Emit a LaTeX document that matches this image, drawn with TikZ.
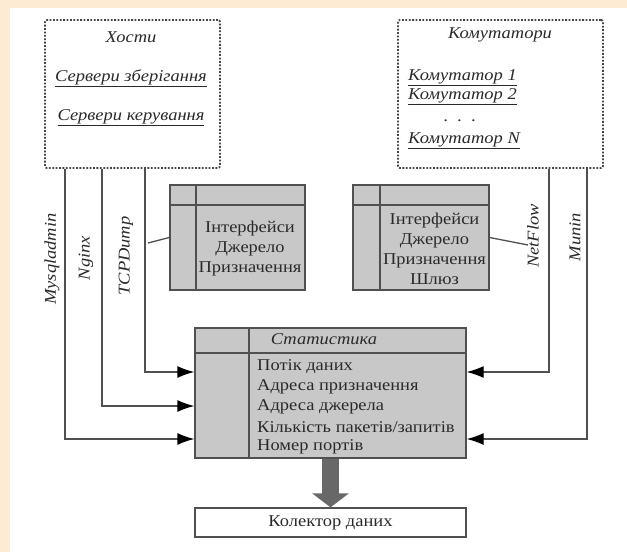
\documentclass[tikz,border=0pt]{standalone}
\usepackage{fontspec}
\setmainfont[FakeStretch=1.12]{Liberation Serif}
\usetikzlibrary{arrows.meta,calc}
\definecolor{peach}{HTML}{FDEBD3}
\definecolor{tblfill}{HTML}{C8C8C8}
\definecolor{edge}{HTML}{505050}
\definecolor{dotc}{HTML}{444444}
\definecolor{ink}{HTML}{2A2A2A}
\definecolor{bigarrow}{HTML}{686868}
\begin{document}
\begin{tikzpicture}[x=1pt,y=-1pt,
  dotbox/.style={draw=dotc, line width=1.8pt, dash pattern=on 1.8pt off 1.6pt, rounded corners=2pt, inner sep=0pt},
  tbl/.style={draw=edge, fill=tblfill, line width=1.3pt, inner sep=0pt},
  plainbox/.style={draw=edge, fill=white, line width=1.3pt, inner sep=0pt},
  txt/.style={text=ink, font=\fontsize{16.5}{20}\selectfont, inner sep=0pt},
  itxt/.style={text=ink, font=\fontsize{16.5}{20}\selectfont\itshape, inner sep=0pt},
  conn/.style={draw=edge, line width=1.3pt},
  arr/.style={-{Latex[length=17pt,width=12pt,color=black]}}
]
\fill[peach] (0,0) rectangle (627,552);
\fill[white] (10,8) rectangle (627,552);
\useasboundingbox (0,0) rectangle (627,552);

% boxes
\node[dotbox, minimum width=175pt, minimum height=148pt] (hosts) at (132.5,94) {};
\node[dotbox, minimum width=205pt, minimum height=148pt] (sw) at (500.5,94) {};
\node[tbl, minimum width=135pt, minimum height=105pt] (tblL) at (237.5,237.5) {};
\node[tbl, minimum width=136pt, minimum height=105pt] (tblR) at (421,237.5) {};
\node[tbl, minimum width=271pt, minimum height=130pt] (stats) at (330.5,393) {};
\node[plainbox, minimum width=271pt, minimum height=29pt, txt] (coll) at (330.5,522.5) {Колектор даних};

% table internals
\draw[conn] (196,185) -- (196,290);
\draw[conn] (tblL.west |- 0,205) -- (tblL.east |- 0,205);
\draw[conn] (380,185) -- (380,290);
\draw[conn] (tblR.west |- 0,205) -- (tblR.east |- 0,205);
\draw[conn] (249,328) -- (249,458);
\draw[conn, line width=1.8pt] (stats.west |- 0,353) -- (stats.east |- 0,353);

% hosts text
\node[itxt] (hT) at (131,37) {Хости};
\node[itxt] (h1) at (131,78) {\underline{Сервери зберігання}};
\node[itxt] (h2) at (131,118) {\underline{Сервери керування}};

% switches text
\node[itxt] (sT) at (500,35) {Комутатори};
\node[itxt, anchor=west] (s1) at (408,78) {\underline{Комутатор 1}};
\node[itxt, anchor=west] (s2) at (408,97) {\underline{Комутатор 2}};
\node[itxt] (sd) at (460,121) {.\ \ .\ \ .};
\node[itxt, anchor=west] (sN) at (408,141) {\underline{Комутатор N}};

% left table text
\node[txt, align=center] (tL) at (250,249) {Інтерфейси\\Джерело\\Призначення};
% right table text
\node[txt, align=center] (tR) at (434.5,249) {Інтерфейси\\Джерело\\Призначення\\Шлюз};

% stats text
\node[itxt] (stT) at (324,339) {Статистика};
\node[txt, anchor=west] (st1) at (257,367) {Потік даних};
\node[txt, anchor=west] (st2) at (257,387) {Адреса призначення};
\node[txt, anchor=west] (st3) at (257,407) {Адреса джерела};
\node[txt, anchor=west] (st4) at (257,427) {Кількість пакетів/запитів};
\node[txt, anchor=west] (st5) at (257,447) {Номер портів};

% rotated labels
\node[itxt, rotate=90] (lMy) at (52,259) {Mysqladmin};
\node[itxt, rotate=90] (lNg) at (86,258) {Nginx};
\node[itxt, rotate=90] (lTc) at (126,256) {TCPDump};
\node[itxt, rotate=90] (lNf) at (533,236) {NetFlow};
\node[itxt, rotate=90] (lMu) at (575,237) {Munin};

% connector columns
\coordinate (c1) at (65,0);
\coordinate (c2) at (102,0);
\coordinate (c3) at (145,0);
\coordinate (c4) at (549,0);
\coordinate (c5) at (587,0);
\coordinate (r1) at (0,372);
\coordinate (r2) at (0,406);
\coordinate (r3) at (0,439);

\draw[conn, arr] (hosts.south -| c3) |- (stats.west |- r1);
\draw[conn, arr] (hosts.south -| c2) |- (stats.west |- r2);
\draw[conn, arr] (hosts.south -| c1) |- (stats.west |- r3);
\draw[conn, arr] (sw.south -| c4) |- (stats.east |- r1);
\draw[conn, arr] (sw.south -| c5) |- (stats.east |- r3);

% short links to tables
\coordinate (tcpc) at (148,243);
\coordinate (nfc) at (528,245);
\draw[conn] (tcpc) -- (tblL.west);
\draw[conn] (tblR.east) -- (nfc);

% big arrow
\draw[bigarrow, line width=17pt, -{Triangle[width=36pt,length=14pt]}] (stats.south) -- (coll.north);
\end{tikzpicture}
\end{document}
